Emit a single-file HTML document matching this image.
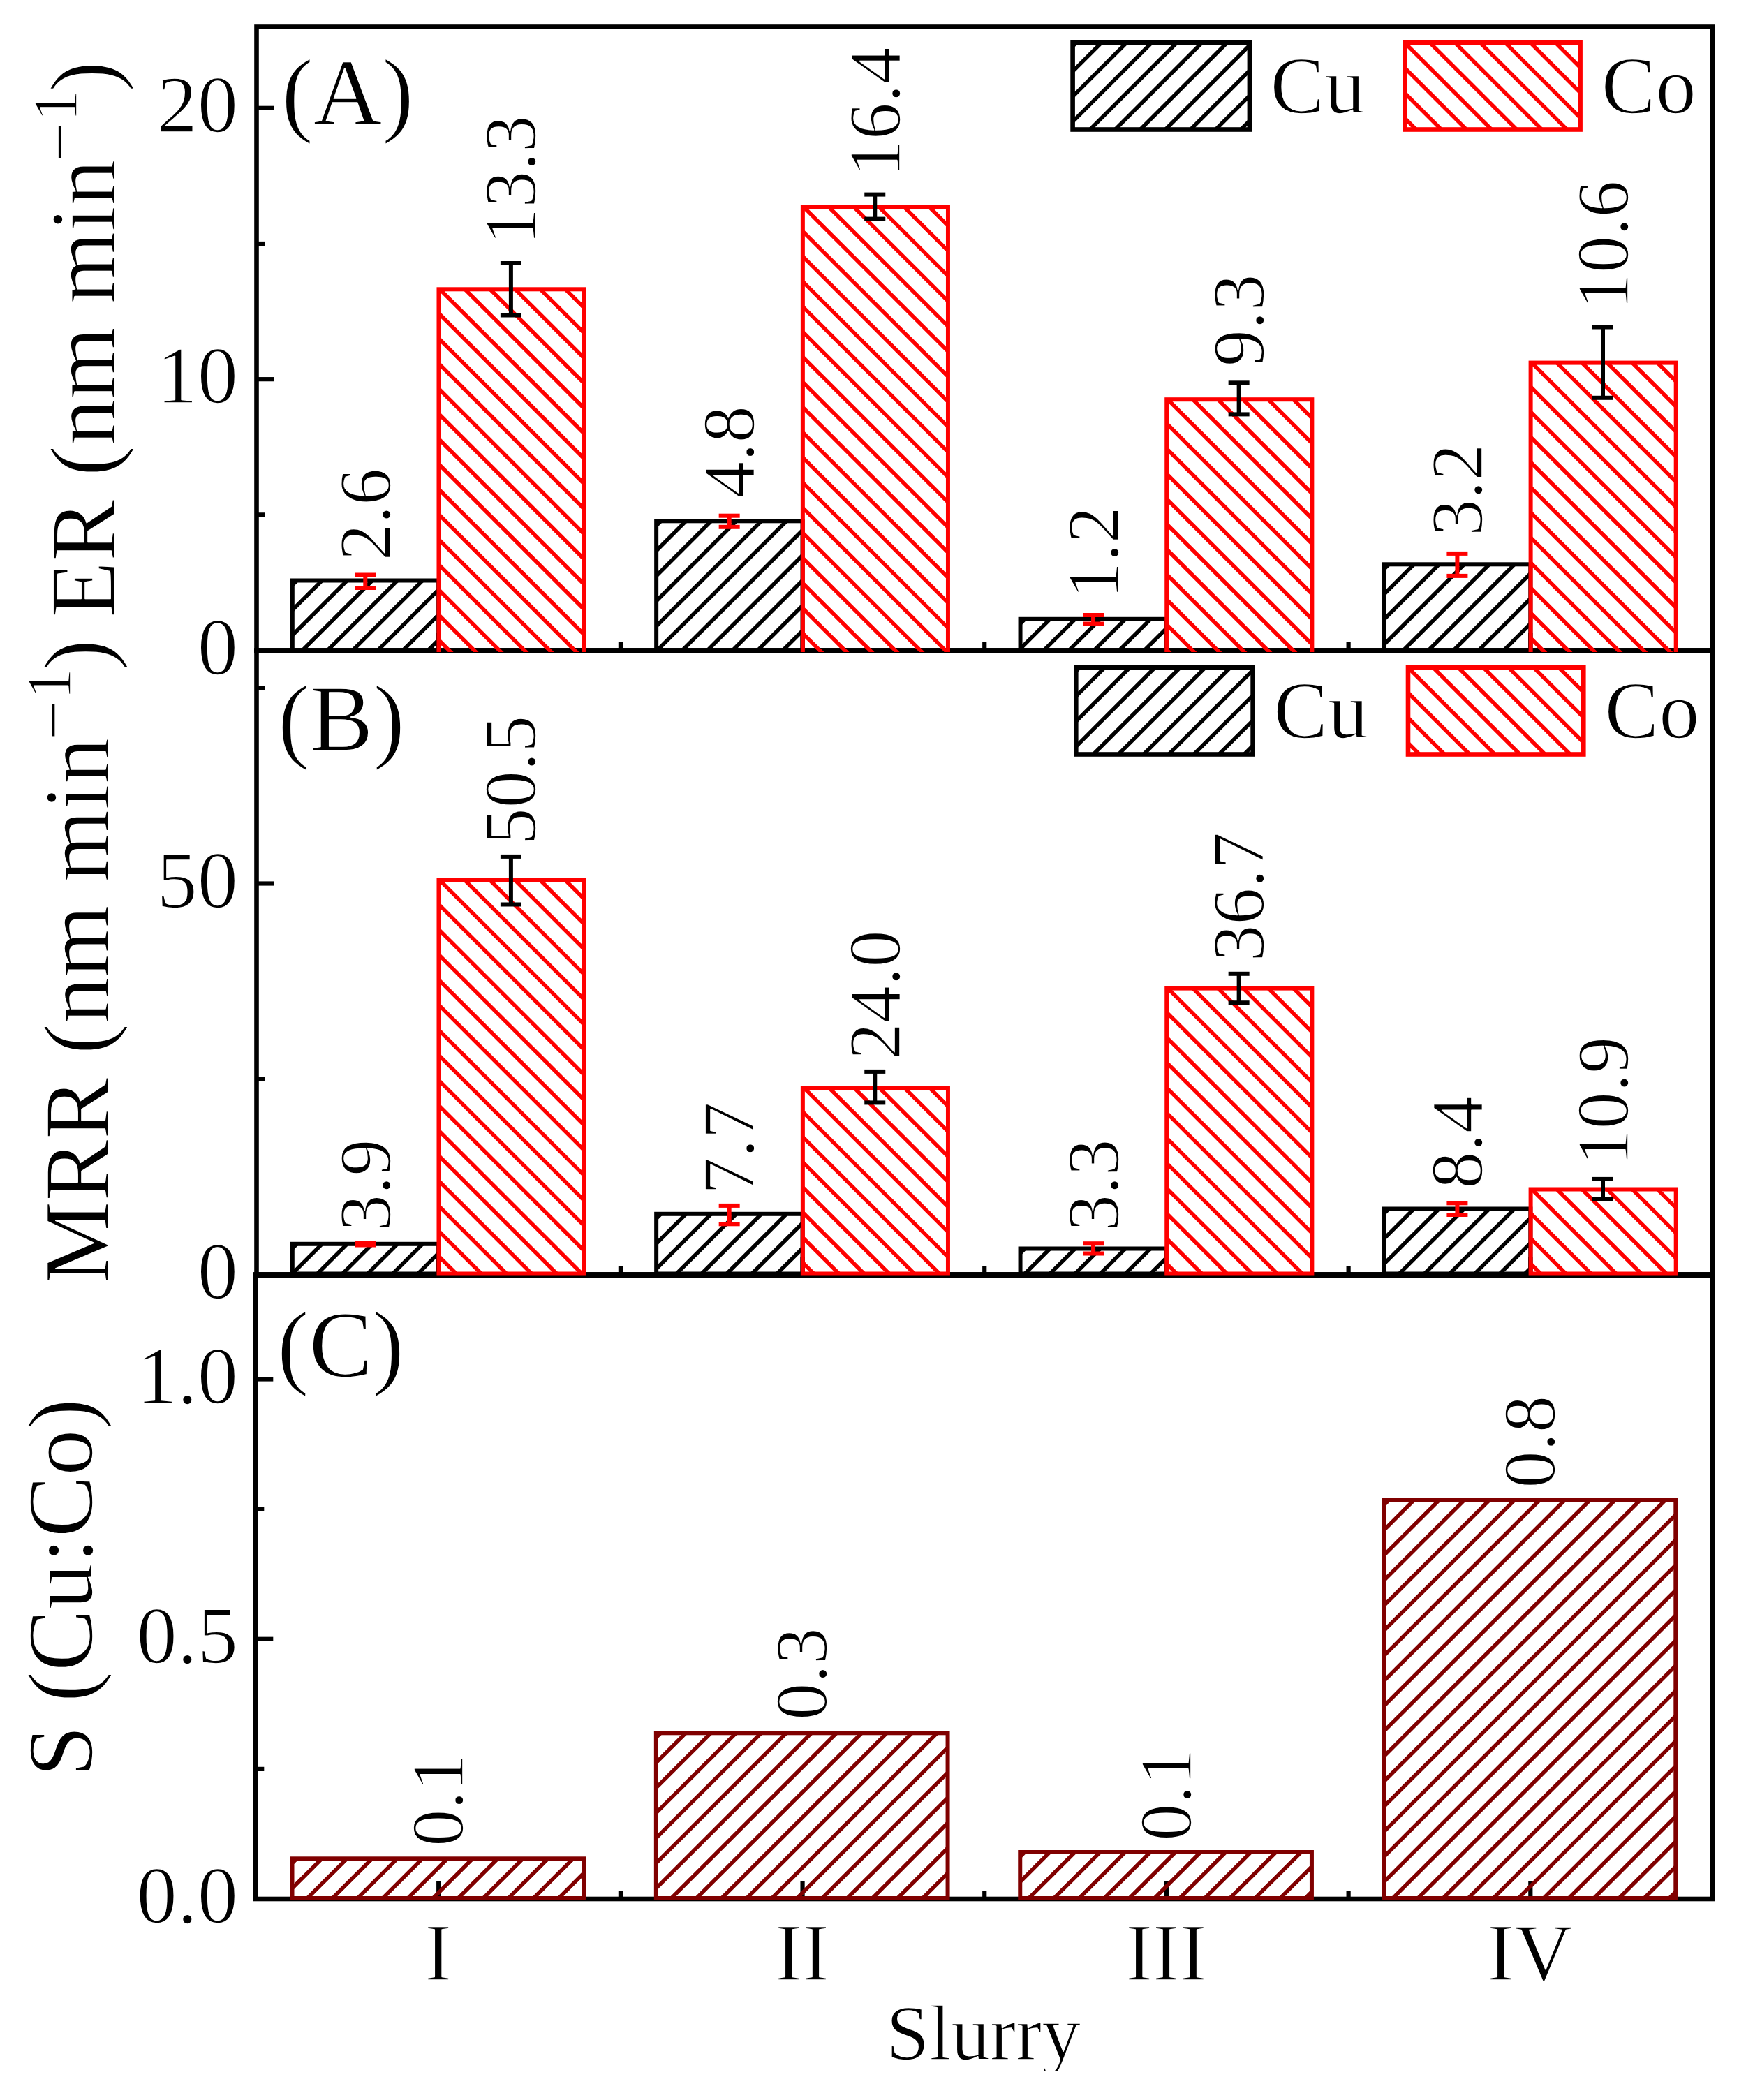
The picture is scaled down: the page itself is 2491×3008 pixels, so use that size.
<!DOCTYPE html>
<html lang="en"><head><meta charset="utf-8"><title>Figure: ER, MRR and selectivity of Cu and Co for slurries I-IV</title>
<style>
html,body{margin:0;padding:0;background:#fff;}
body{width:2491px;height:3008px;overflow:hidden;}
svg{display:block;}
</style></head><body>
<svg width="2491" height="3008" viewBox="0 0 2491 3008" font-family="'Liberation Serif', 'Times New Roman', serif" fill="#000"><style>text{stroke:#fff;stroke-width:1.6px;stroke-linejoin:round}</style>
<rect width="2491" height="3008" fill="#fff"/>
<defs><clipPath id="c1"><rect x="418.79" y="831.5" width="209.4" height="102.5"/></clipPath><clipPath id="c2"><rect x="408.79" y="821.5" width="229.4" height="112.5"/></clipPath><clipPath id="c3"><rect x="940.16" y="746.3" width="209.4" height="187.7"/></clipPath><clipPath id="c4"><rect x="930.16" y="736.3" width="229.4" height="197.7"/></clipPath><clipPath id="c5"><rect x="1461.54" y="886.8" width="209.4" height="47.2"/></clipPath><clipPath id="c6"><rect x="1451.54" y="876.8" width="229.4" height="57.2"/></clipPath><clipPath id="c7"><rect x="1982.91" y="808.3" width="209.4" height="125.7"/></clipPath><clipPath id="c8"><rect x="1972.91" y="798.3" width="229.4" height="135.7"/></clipPath><clipPath id="c9"><rect x="628.49" y="414.3" width="208.1" height="519.7"/></clipPath><clipPath id="c10"><rect x="618.49" y="404.3" width="228.1" height="529.7"/></clipPath><clipPath id="c11"><rect x="1149.86" y="296.7" width="208.1" height="637.3"/></clipPath><clipPath id="c12"><rect x="1139.86" y="286.7" width="228.1" height="647.3"/></clipPath><clipPath id="c13"><rect x="1671.24" y="572.2" width="208.1" height="361.8"/></clipPath><clipPath id="c14"><rect x="1661.24" y="562.2" width="228.1" height="371.8"/></clipPath><clipPath id="c15"><rect x="2192.61" y="519.6" width="208.1" height="414.4"/></clipPath><clipPath id="c16"><rect x="2182.61" y="509.6" width="228.1" height="424.4"/></clipPath><clipPath id="c17"><rect x="1536.6" y="61.3" width="253.3" height="124.2"/></clipPath><clipPath id="c18"><rect x="2012.3" y="61.3" width="251.3" height="124.2"/></clipPath><clipPath id="c19"><rect x="418.79" y="1781.8" width="209.4" height="42.7"/></clipPath><clipPath id="c20"><rect x="940.16" y="1738.8" width="209.4" height="85.7"/></clipPath><clipPath id="c21"><rect x="1461.54" y="1788.5" width="209.4" height="36"/></clipPath><clipPath id="c22"><rect x="1982.91" y="1731.5" width="209.4" height="93"/></clipPath><clipPath id="c23"><rect x="628.49" y="1260.9" width="208.1" height="563.6"/></clipPath><clipPath id="c24"><rect x="1149.86" y="1558" width="208.1" height="266.5"/></clipPath><clipPath id="c25"><rect x="1671.24" y="1415.6" width="208.1" height="408.9"/></clipPath><clipPath id="c26"><rect x="2192.61" y="1703.5" width="208.1" height="121"/></clipPath><clipPath id="c27"><rect x="1541.3" y="956.3" width="253.3" height="124.2"/></clipPath><clipPath id="c28"><rect x="2017" y="956.3" width="251.3" height="124.2"/></clipPath><clipPath id="c29"><rect x="418.49" y="2662.3" width="417.7" height="56.7"/></clipPath><clipPath id="c30"><rect x="939.86" y="2482.3" width="417.7" height="236.7"/></clipPath><clipPath id="c31"><rect x="1461.24" y="2653" width="417.7" height="66"/></clipPath><clipPath id="c32"><rect x="1982.61" y="2149" width="417.7" height="570"/></clipPath><clipPath id="cs"><rect x="1200" y="2840" width="450" height="126.5"/></clipPath></defs>
<rect x="367.5" y="38.5" width="2085.5" height="893" fill="none" stroke="#000" stroke-width="6.6"/>
<line x1="367.5" y1="154.8" x2="392.5" y2="154.8" stroke="#000" stroke-width="6.2"/>
<line x1="367.5" y1="543.15" x2="392.5" y2="543.15" stroke="#000" stroke-width="6.2"/>
<line x1="367.5" y1="348.98" x2="379.5" y2="348.98" stroke="#000" stroke-width="6.2"/>
<line x1="367.5" y1="737.33" x2="379.5" y2="737.33" stroke="#000" stroke-width="6.2"/>
<line x1="628.19" y1="931.5" x2="628.19" y2="906.5" stroke="#000" stroke-width="6.2"/>
<line x1="1149.56" y1="931.5" x2="1149.56" y2="906.5" stroke="#000" stroke-width="6.2"/>
<line x1="1670.94" y1="931.5" x2="1670.94" y2="906.5" stroke="#000" stroke-width="6.2"/>
<line x1="2192.31" y1="931.5" x2="2192.31" y2="906.5" stroke="#000" stroke-width="6.2"/>
<line x1="888.88" y1="931.5" x2="888.88" y2="920" stroke="#000" stroke-width="6.2"/>
<line x1="1410.25" y1="931.5" x2="1410.25" y2="920" stroke="#000" stroke-width="6.2"/>
<line x1="1931.62" y1="931.5" x2="1931.62" y2="920" stroke="#000" stroke-width="6.2"/>
<rect x="367.5" y="931.5" width="2085.5" height="894" fill="none" stroke="#000" stroke-width="6.6"/>
<line x1="367.5" y1="1265.5" x2="392.5" y2="1265.5" stroke="#000" stroke-width="6.2"/>
<line x1="367.5" y1="985.5" x2="379.5" y2="985.5" stroke="#000" stroke-width="6.2"/>
<line x1="367.5" y1="1545.5" x2="379.5" y2="1545.5" stroke="#000" stroke-width="6.2"/>
<line x1="628.19" y1="1825.5" x2="628.19" y2="1800.5" stroke="#000" stroke-width="6.2"/>
<line x1="1149.56" y1="1825.5" x2="1149.56" y2="1800.5" stroke="#000" stroke-width="6.2"/>
<line x1="1670.94" y1="1825.5" x2="1670.94" y2="1800.5" stroke="#000" stroke-width="6.2"/>
<line x1="2192.31" y1="1825.5" x2="2192.31" y2="1800.5" stroke="#000" stroke-width="6.2"/>
<line x1="888.88" y1="1825.5" x2="888.88" y2="1814" stroke="#000" stroke-width="6.2"/>
<line x1="1410.25" y1="1825.5" x2="1410.25" y2="1814" stroke="#000" stroke-width="6.2"/>
<line x1="1931.62" y1="1825.5" x2="1931.62" y2="1814" stroke="#000" stroke-width="6.2"/>
<rect x="366.3" y="1825.5" width="2086.7" height="894.5" fill="none" stroke="#000" stroke-width="6.6"/>
<line x1="366.3" y1="1975.5" x2="391.3" y2="1975.5" stroke="#000" stroke-width="6.2"/>
<line x1="366.3" y1="2347.75" x2="391.3" y2="2347.75" stroke="#000" stroke-width="6.2"/>
<line x1="366.3" y1="2161.62" x2="378.3" y2="2161.62" stroke="#000" stroke-width="6.2"/>
<line x1="366.3" y1="2533.88" x2="378.3" y2="2533.88" stroke="#000" stroke-width="6.2"/>
<line x1="628.19" y1="2720" x2="628.19" y2="2695" stroke="#000" stroke-width="6.2"/>
<line x1="1149.56" y1="2720" x2="1149.56" y2="2695" stroke="#000" stroke-width="6.2"/>
<line x1="1670.94" y1="2720" x2="1670.94" y2="2695" stroke="#000" stroke-width="6.2"/>
<line x1="2192.31" y1="2720" x2="2192.31" y2="2695" stroke="#000" stroke-width="6.2"/>
<line x1="888.88" y1="2720" x2="888.88" y2="2708.5" stroke="#000" stroke-width="6.2"/>
<line x1="1410.25" y1="2720" x2="1410.25" y2="2708.5" stroke="#000" stroke-width="6.2"/>
<line x1="1931.62" y1="2720" x2="1931.62" y2="2708.5" stroke="#000" stroke-width="6.2"/>
<line x1="364.2" y1="932.2" x2="2456.3" y2="932.2" stroke="#000" stroke-width="7.4"/>
<line x1="363" y1="1826.4" x2="2456.3" y2="1826.4" stroke="#000" stroke-width="7.8"/>
<path clip-path="url(#c1)" d="M307.29 949.5L431.29 825.5M343.29 949.5L467.29 825.5M379.29 949.5L503.29 825.5M415.29 949.5L539.29 825.5M451.29 949.5L575.29 825.5M487.29 949.5L611.29 825.5M523.29 949.5L647.29 825.5M559.29 949.5L683.29 825.5M595.29 949.5L719.29 825.5" stroke="#000" stroke-width="5.6" fill="none"/>
<rect x="418.79" y="831.5" width="209.4" height="112" fill="none" stroke="#000" stroke-width="6" clip-path="url(#c2)"/>
<path clip-path="url(#c3)" d="M743.46 949.5L952.66 740.3M779.46 949.5L988.66 740.3M815.46 949.5L1024.66 740.3M851.46 949.5L1060.66 740.3M887.46 949.5L1096.66 740.3M923.46 949.5L1132.66 740.3M959.46 949.5L1168.66 740.3M995.46 949.5L1204.66 740.3M1031.46 949.5L1240.66 740.3M1067.46 949.5L1276.66 740.3M1103.46 949.5L1312.66 740.3M1139.46 949.5L1348.66 740.3" stroke="#000" stroke-width="5.6" fill="none"/>
<rect x="940.16" y="746.3" width="209.4" height="197.2" fill="none" stroke="#000" stroke-width="6" clip-path="url(#c4)"/>
<path clip-path="url(#c5)" d="M1405.34 949.5L1474.04 880.8M1441.34 949.5L1510.04 880.8M1477.34 949.5L1546.04 880.8M1513.34 949.5L1582.04 880.8M1549.34 949.5L1618.04 880.8M1585.34 949.5L1654.04 880.8M1621.34 949.5L1690.04 880.8M1657.34 949.5L1726.04 880.8" stroke="#000" stroke-width="5.6" fill="none"/>
<rect x="1461.54" y="886.8" width="209.4" height="56.7" fill="none" stroke="#000" stroke-width="6" clip-path="url(#c6)"/>
<path clip-path="url(#c7)" d="M1848.21 949.5L1995.41 802.3M1884.21 949.5L2031.41 802.3M1920.21 949.5L2067.41 802.3M1956.21 949.5L2103.41 802.3M1992.21 949.5L2139.41 802.3M2028.21 949.5L2175.41 802.3M2064.21 949.5L2211.41 802.3M2100.21 949.5L2247.41 802.3M2136.21 949.5L2283.41 802.3M2172.21 949.5L2319.41 802.3" stroke="#000" stroke-width="5.6" fill="none"/>
<rect x="1982.91" y="808.3" width="209.4" height="135.2" fill="none" stroke="#000" stroke-width="6" clip-path="url(#c8)"/>
<path clip-path="url(#c9)" d="M83.99 408.3L625.19 949.5M119.99 408.3L661.19 949.5M155.99 408.3L697.19 949.5M191.99 408.3L733.19 949.5M227.99 408.3L769.19 949.5M263.99 408.3L805.19 949.5M299.99 408.3L841.19 949.5M335.99 408.3L877.19 949.5M371.99 408.3L913.19 949.5M407.99 408.3L949.19 949.5M443.99 408.3L985.19 949.5M479.99 408.3L1021.19 949.5M515.99 408.3L1057.19 949.5M551.99 408.3L1093.19 949.5M587.99 408.3L1129.19 949.5M623.99 408.3L1165.19 949.5M659.99 408.3L1201.19 949.5M695.99 408.3L1237.19 949.5M731.99 408.3L1273.19 949.5M767.99 408.3L1309.19 949.5M803.99 408.3L1345.19 949.5" stroke="#f00" stroke-width="5.6" fill="none"/>
<rect x="628.49" y="414.3" width="208.1" height="529.2" fill="none" stroke="#f00" stroke-width="6" clip-path="url(#c10)"/>
<path clip-path="url(#c11)" d="M461.36 290.7L1120.16 949.5M497.36 290.7L1156.16 949.5M533.36 290.7L1192.16 949.5M569.36 290.7L1228.16 949.5M605.36 290.7L1264.16 949.5M641.36 290.7L1300.16 949.5M677.36 290.7L1336.16 949.5M713.36 290.7L1372.16 949.5M749.36 290.7L1408.16 949.5M785.36 290.7L1444.16 949.5M821.36 290.7L1480.16 949.5M857.36 290.7L1516.16 949.5M893.36 290.7L1552.16 949.5M929.36 290.7L1588.16 949.5M965.36 290.7L1624.16 949.5M1001.36 290.7L1660.16 949.5M1037.36 290.7L1696.16 949.5M1073.36 290.7L1732.16 949.5M1109.36 290.7L1768.16 949.5M1145.36 290.7L1804.16 949.5M1181.36 290.7L1840.16 949.5M1217.36 290.7L1876.16 949.5M1253.36 290.7L1912.16 949.5M1289.36 290.7L1948.16 949.5M1325.36 290.7L1984.16 949.5" stroke="#f00" stroke-width="5.6" fill="none"/>
<rect x="1149.86" y="296.7" width="208.1" height="646.8" fill="none" stroke="#f00" stroke-width="6" clip-path="url(#c12)"/>
<path clip-path="url(#c13)" d="M1270.74 566.2L1654.04 949.5M1306.74 566.2L1690.04 949.5M1342.74 566.2L1726.04 949.5M1378.74 566.2L1762.04 949.5M1414.74 566.2L1798.04 949.5M1450.74 566.2L1834.04 949.5M1486.74 566.2L1870.04 949.5M1522.74 566.2L1906.04 949.5M1558.74 566.2L1942.04 949.5M1594.74 566.2L1978.04 949.5M1630.74 566.2L2014.04 949.5M1666.74 566.2L2050.04 949.5M1702.74 566.2L2086.04 949.5M1738.74 566.2L2122.04 949.5M1774.74 566.2L2158.04 949.5M1810.74 566.2L2194.04 949.5M1846.74 566.2L2230.04 949.5" stroke="#f00" stroke-width="5.6" fill="none"/>
<rect x="1671.24" y="572.2" width="208.1" height="371.3" fill="none" stroke="#f00" stroke-width="6" clip-path="url(#c14)"/>
<path clip-path="url(#c15)" d="M1720.11 513.6L2156.01 949.5M1756.11 513.6L2192.01 949.5M1792.11 513.6L2228.01 949.5M1828.11 513.6L2264.01 949.5M1864.11 513.6L2300.01 949.5M1900.11 513.6L2336.01 949.5M1936.11 513.6L2372.01 949.5M1972.11 513.6L2408.01 949.5M2008.11 513.6L2444.01 949.5M2044.11 513.6L2480.01 949.5M2080.11 513.6L2516.01 949.5M2116.11 513.6L2552.01 949.5M2152.11 513.6L2588.01 949.5M2188.11 513.6L2624.01 949.5M2224.11 513.6L2660.01 949.5M2260.11 513.6L2696.01 949.5M2296.11 513.6L2732.01 949.5M2332.11 513.6L2768.01 949.5M2368.11 513.6L2804.01 949.5" stroke="#f00" stroke-width="5.6" fill="none"/>
<rect x="2192.61" y="519.6" width="208.1" height="423.9" fill="none" stroke="#f00" stroke-width="6" clip-path="url(#c16)"/>
<line x1="523.29" y1="823.5" x2="523.29" y2="842" stroke="#f00" stroke-width="6"/>
<line x1="508.29" y1="823.5" x2="538.29" y2="823.5" stroke="#f00" stroke-width="6"/>
<line x1="508.29" y1="842" x2="538.29" y2="842" stroke="#f00" stroke-width="6"/>
<line x1="731.89" y1="377" x2="731.89" y2="451.5" stroke="#000" stroke-width="6"/>
<line x1="716.89" y1="377" x2="746.89" y2="377" stroke="#000" stroke-width="6"/>
<line x1="716.89" y1="451.5" x2="746.89" y2="451.5" stroke="#000" stroke-width="6"/>
<line x1="1044.66" y1="738.7" x2="1044.66" y2="754.8" stroke="#f00" stroke-width="6"/>
<line x1="1029.66" y1="738.7" x2="1059.66" y2="738.7" stroke="#f00" stroke-width="6"/>
<line x1="1029.66" y1="754.8" x2="1059.66" y2="754.8" stroke="#f00" stroke-width="6"/>
<line x1="1253.26" y1="278.6" x2="1253.26" y2="313.6" stroke="#000" stroke-width="6"/>
<line x1="1238.26" y1="278.6" x2="1268.26" y2="278.6" stroke="#000" stroke-width="6"/>
<line x1="1238.26" y1="313.6" x2="1268.26" y2="313.6" stroke="#000" stroke-width="6"/>
<line x1="1566.04" y1="881" x2="1566.04" y2="893.5" stroke="#f00" stroke-width="6"/>
<line x1="1551.04" y1="881" x2="1581.04" y2="881" stroke="#f00" stroke-width="6"/>
<line x1="1551.04" y1="893.5" x2="1581.04" y2="893.5" stroke="#f00" stroke-width="6"/>
<line x1="1774.64" y1="548.3" x2="1774.64" y2="593.4" stroke="#000" stroke-width="6"/>
<line x1="1759.64" y1="548.3" x2="1789.64" y2="548.3" stroke="#000" stroke-width="6"/>
<line x1="1759.64" y1="593.4" x2="1789.64" y2="593.4" stroke="#000" stroke-width="6"/>
<line x1="2087.41" y1="792.9" x2="2087.41" y2="824.9" stroke="#f00" stroke-width="6"/>
<line x1="2072.41" y1="792.9" x2="2102.41" y2="792.9" stroke="#f00" stroke-width="6"/>
<line x1="2072.41" y1="824.9" x2="2102.41" y2="824.9" stroke="#f00" stroke-width="6"/>
<line x1="2296.01" y1="468.5" x2="2296.01" y2="569.8" stroke="#000" stroke-width="6"/>
<line x1="2281.01" y1="468.5" x2="2311.01" y2="468.5" stroke="#000" stroke-width="6"/>
<line x1="2281.01" y1="569.8" x2="2311.01" y2="569.8" stroke="#000" stroke-width="6"/>
<text transform="translate(558.79 803.16) rotate(-90)" font-size="106">2.6</text>
<text transform="translate(767.39 350.77) rotate(-90)" font-size="106">13.3</text>
<text transform="translate(1080.16 713.67) rotate(-90)" font-size="106">4.8</text>
<text transform="translate(1288.76 253.07) rotate(-90)" font-size="106">16.4</text>
<text transform="translate(1601.54 857.77) rotate(-90)" font-size="106">1.2</text>
<text transform="translate(1810.14 525.12) rotate(-90)" font-size="106">9.3</text>
<text transform="translate(2122.91 768.07) rotate(-90)" font-size="106">3.2</text>
<text transform="translate(2331.51 444.07) rotate(-90)" font-size="106">10.6</text>
<path clip-path="url(#c17)" d="M1411.4 191.5L1547.6 55.3M1447.4 191.5L1583.6 55.3M1483.4 191.5L1619.6 55.3M1519.4 191.5L1655.6 55.3M1555.4 191.5L1691.6 55.3M1591.4 191.5L1727.6 55.3M1627.4 191.5L1763.6 55.3M1663.4 191.5L1799.6 55.3M1699.4 191.5L1835.6 55.3M1735.4 191.5L1871.6 55.3M1771.4 191.5L1907.6 55.3" stroke="#000" stroke-width="5.6" fill="none"/>
<rect x="1536.6" y="61.3" width="253.3" height="124.2" fill="none" stroke="#000" stroke-width="6.6"/>
<text x="1819.52" y="161.5" font-size="116.5" text-anchor="start">Cu</text>
<path clip-path="url(#c18)" d="M1862.3 55.3L1998.5 191.5M1898.3 55.3L2034.5 191.5M1934.3 55.3L2070.5 191.5M1970.3 55.3L2106.5 191.5M2006.3 55.3L2142.5 191.5M2042.3 55.3L2178.5 191.5M2078.3 55.3L2214.5 191.5M2114.3 55.3L2250.5 191.5M2150.3 55.3L2286.5 191.5M2186.3 55.3L2322.5 191.5M2222.3 55.3L2358.5 191.5M2258.3 55.3L2394.5 191.5" stroke="#f00" stroke-width="5.6" fill="none"/>
<rect x="2012.3" y="61.3" width="251.3" height="124.2" fill="none" stroke="#f00" stroke-width="6.6"/>
<text x="2293.82" y="161.5" font-size="116.5" text-anchor="start">Co</text>
<text x="403.2" y="178" font-size="136.5" text-anchor="start">(A)</text>
<text x="341" y="188.8" font-size="116.5" text-anchor="end">20</text>
<text x="341" y="577.15" font-size="116.5" text-anchor="end">10</text>
<text x="341" y="965.5" font-size="116.5" text-anchor="end">0</text>
<path clip-path="url(#c19)" d="M376.59 1830.5L431.29 1775.8M412.59 1830.5L467.29 1775.8M448.59 1830.5L503.29 1775.8M484.59 1830.5L539.29 1775.8M520.59 1830.5L575.29 1775.8M556.59 1830.5L611.29 1775.8M592.59 1830.5L647.29 1775.8M628.59 1830.5L683.29 1775.8" stroke="#000" stroke-width="5.6" fill="none"/>
<rect x="418.79" y="1781.8" width="209.4" height="42.7" fill="none" stroke="#000" stroke-width="6"/>
<path clip-path="url(#c20)" d="M854.96 1830.5L952.66 1732.8M890.96 1830.5L988.66 1732.8M926.96 1830.5L1024.66 1732.8M962.96 1830.5L1060.66 1732.8M998.96 1830.5L1096.66 1732.8M1034.96 1830.5L1132.66 1732.8M1070.96 1830.5L1168.66 1732.8M1106.96 1830.5L1204.66 1732.8M1142.96 1830.5L1240.66 1732.8" stroke="#000" stroke-width="5.6" fill="none"/>
<rect x="940.16" y="1738.8" width="209.4" height="85.7" fill="none" stroke="#000" stroke-width="6"/>
<path clip-path="url(#c21)" d="M1426.04 1830.5L1474.04 1782.5M1462.04 1830.5L1510.04 1782.5M1498.04 1830.5L1546.04 1782.5M1534.04 1830.5L1582.04 1782.5M1570.04 1830.5L1618.04 1782.5M1606.04 1830.5L1654.04 1782.5M1642.04 1830.5L1690.04 1782.5" stroke="#000" stroke-width="5.6" fill="none"/>
<rect x="1461.54" y="1788.5" width="209.4" height="36" fill="none" stroke="#000" stroke-width="6"/>
<path clip-path="url(#c22)" d="M1890.41 1830.5L1995.41 1725.5M1926.41 1830.5L2031.41 1725.5M1962.41 1830.5L2067.41 1725.5M1998.41 1830.5L2103.41 1725.5M2034.41 1830.5L2139.41 1725.5M2070.41 1830.5L2175.41 1725.5M2106.41 1830.5L2211.41 1725.5M2142.41 1830.5L2247.41 1725.5M2178.41 1830.5L2283.41 1725.5" stroke="#000" stroke-width="5.6" fill="none"/>
<rect x="1982.91" y="1731.5" width="209.4" height="93" fill="none" stroke="#000" stroke-width="6"/>
<path clip-path="url(#c23)" d="M47.99 1254.9L623.59 1830.5M83.99 1254.9L659.59 1830.5M119.99 1254.9L695.59 1830.5M155.99 1254.9L731.59 1830.5M191.99 1254.9L767.59 1830.5M227.99 1254.9L803.59 1830.5M263.99 1254.9L839.59 1830.5M299.99 1254.9L875.59 1830.5M335.99 1254.9L911.59 1830.5M371.99 1254.9L947.59 1830.5M407.99 1254.9L983.59 1830.5M443.99 1254.9L1019.59 1830.5M479.99 1254.9L1055.59 1830.5M515.99 1254.9L1091.59 1830.5M551.99 1254.9L1127.59 1830.5M587.99 1254.9L1163.59 1830.5M623.99 1254.9L1199.59 1830.5M659.99 1254.9L1235.59 1830.5M695.99 1254.9L1271.59 1830.5M731.99 1254.9L1307.59 1830.5M767.99 1254.9L1343.59 1830.5M803.99 1254.9L1379.59 1830.5" stroke="#f00" stroke-width="5.6" fill="none"/>
<rect x="628.49" y="1260.9" width="208.1" height="563.6" fill="none" stroke="#f00" stroke-width="6"/>
<path clip-path="url(#c24)" d="M857.36 1552L1135.86 1830.5M893.36 1552L1171.86 1830.5M929.36 1552L1207.86 1830.5M965.36 1552L1243.86 1830.5M1001.36 1552L1279.86 1830.5M1037.36 1552L1315.86 1830.5M1073.36 1552L1351.86 1830.5M1109.36 1552L1387.86 1830.5M1145.36 1552L1423.86 1830.5M1181.36 1552L1459.86 1830.5M1217.36 1552L1495.86 1830.5M1253.36 1552L1531.86 1830.5M1289.36 1552L1567.86 1830.5M1325.36 1552L1603.86 1830.5" stroke="#f00" stroke-width="5.6" fill="none"/>
<rect x="1149.86" y="1558" width="208.1" height="266.5" fill="none" stroke="#f00" stroke-width="6"/>
<path clip-path="url(#c25)" d="M1234.74 1409.6L1655.64 1830.5M1270.74 1409.6L1691.64 1830.5M1306.74 1409.6L1727.64 1830.5M1342.74 1409.6L1763.64 1830.5M1378.74 1409.6L1799.64 1830.5M1414.74 1409.6L1835.64 1830.5M1450.74 1409.6L1871.64 1830.5M1486.74 1409.6L1907.64 1830.5M1522.74 1409.6L1943.64 1830.5M1558.74 1409.6L1979.64 1830.5M1594.74 1409.6L2015.64 1830.5M1630.74 1409.6L2051.64 1830.5M1666.74 1409.6L2087.64 1830.5M1702.74 1409.6L2123.64 1830.5M1738.74 1409.6L2159.64 1830.5M1774.74 1409.6L2195.64 1830.5M1810.74 1409.6L2231.64 1830.5M1846.74 1409.6L2267.64 1830.5" stroke="#f00" stroke-width="5.6" fill="none"/>
<rect x="1671.24" y="1415.6" width="208.1" height="408.9" fill="none" stroke="#f00" stroke-width="6"/>
<path clip-path="url(#c26)" d="M2044.11 1697.5L2177.11 1830.5M2080.11 1697.5L2213.11 1830.5M2116.11 1697.5L2249.11 1830.5M2152.11 1697.5L2285.11 1830.5M2188.11 1697.5L2321.11 1830.5M2224.11 1697.5L2357.11 1830.5M2260.11 1697.5L2393.11 1830.5M2296.11 1697.5L2429.11 1830.5M2332.11 1697.5L2465.11 1830.5M2368.11 1697.5L2501.11 1830.5" stroke="#f00" stroke-width="5.6" fill="none"/>
<rect x="2192.61" y="1703.5" width="208.1" height="121" fill="none" stroke="#f00" stroke-width="6"/>
<line x1="523.29" y1="1780.3" x2="523.29" y2="1783.5" stroke="#f00" stroke-width="6"/>
<line x1="508.29" y1="1780.3" x2="538.29" y2="1780.3" stroke="#f00" stroke-width="6"/>
<line x1="508.29" y1="1783.5" x2="538.29" y2="1783.5" stroke="#f00" stroke-width="6"/>
<line x1="731.89" y1="1226.9" x2="731.89" y2="1295.5" stroke="#000" stroke-width="6"/>
<line x1="716.89" y1="1226.9" x2="746.89" y2="1226.9" stroke="#000" stroke-width="6"/>
<line x1="716.89" y1="1295.5" x2="746.89" y2="1295.5" stroke="#000" stroke-width="6"/>
<line x1="1044.66" y1="1726.9" x2="1044.66" y2="1753.3" stroke="#f00" stroke-width="6"/>
<line x1="1029.66" y1="1726.9" x2="1059.66" y2="1726.9" stroke="#f00" stroke-width="6"/>
<line x1="1029.66" y1="1753.3" x2="1059.66" y2="1753.3" stroke="#f00" stroke-width="6"/>
<line x1="1253.26" y1="1534.9" x2="1253.26" y2="1579.4" stroke="#000" stroke-width="6"/>
<line x1="1238.26" y1="1534.9" x2="1268.26" y2="1534.9" stroke="#000" stroke-width="6"/>
<line x1="1238.26" y1="1579.4" x2="1268.26" y2="1579.4" stroke="#000" stroke-width="6"/>
<line x1="1566.04" y1="1781.2" x2="1566.04" y2="1795.5" stroke="#f00" stroke-width="6"/>
<line x1="1551.04" y1="1781.2" x2="1581.04" y2="1781.2" stroke="#f00" stroke-width="6"/>
<line x1="1551.04" y1="1795.5" x2="1581.04" y2="1795.5" stroke="#f00" stroke-width="6"/>
<line x1="1774.64" y1="1394.8" x2="1774.64" y2="1436.2" stroke="#000" stroke-width="6"/>
<line x1="1759.64" y1="1394.8" x2="1789.64" y2="1394.8" stroke="#000" stroke-width="6"/>
<line x1="1759.64" y1="1436.2" x2="1789.64" y2="1436.2" stroke="#000" stroke-width="6"/>
<line x1="2087.41" y1="1723.3" x2="2087.41" y2="1740" stroke="#f00" stroke-width="6"/>
<line x1="2072.41" y1="1723.3" x2="2102.41" y2="1723.3" stroke="#f00" stroke-width="6"/>
<line x1="2072.41" y1="1740" x2="2102.41" y2="1740" stroke="#f00" stroke-width="6"/>
<line x1="2296.01" y1="1688.9" x2="2296.01" y2="1717" stroke="#000" stroke-width="6"/>
<line x1="2281.01" y1="1688.9" x2="2311.01" y2="1688.9" stroke="#000" stroke-width="6"/>
<line x1="2281.01" y1="1717" x2="2311.01" y2="1717" stroke="#000" stroke-width="6"/>
<text transform="translate(558.79 1764.07) rotate(-90)" font-size="106">3.9</text>
<text transform="translate(767.39 1210.16) rotate(-90)" font-size="106">50.5</text>
<text transform="translate(1080.16 1710.99) rotate(-90)" font-size="106">7.7</text>
<text transform="translate(1288.76 1518.06) rotate(-90)" font-size="106">24.0</text>
<text transform="translate(1601.54 1763.97) rotate(-90)" font-size="106">3.3</text>
<text transform="translate(1810.14 1377.57) rotate(-90)" font-size="106">36.7</text>
<text transform="translate(2122.91 1702.64) rotate(-90)" font-size="106">8.4</text>
<text transform="translate(2331.51 1670.17) rotate(-90)" font-size="106">10.9</text>
<path clip-path="url(#c27)" d="M1416.1 1086.5L1552.3 950.3M1452.1 1086.5L1588.3 950.3M1488.1 1086.5L1624.3 950.3M1524.1 1086.5L1660.3 950.3M1560.1 1086.5L1696.3 950.3M1596.1 1086.5L1732.3 950.3M1632.1 1086.5L1768.3 950.3M1668.1 1086.5L1804.3 950.3M1704.1 1086.5L1840.3 950.3M1740.1 1086.5L1876.3 950.3M1776.1 1086.5L1912.3 950.3" stroke="#000" stroke-width="5.6" fill="none"/>
<rect x="1541.3" y="956.3" width="253.3" height="124.2" fill="none" stroke="#000" stroke-width="6.6"/>
<text x="1824.22" y="1056.5" font-size="116.5" text-anchor="start">Cu</text>
<path clip-path="url(#c28)" d="M1867 950.3L2003.2 1086.5M1903 950.3L2039.2 1086.5M1939 950.3L2075.2 1086.5M1975 950.3L2111.2 1086.5M2011 950.3L2147.2 1086.5M2047 950.3L2183.2 1086.5M2083 950.3L2219.2 1086.5M2119 950.3L2255.2 1086.5M2155 950.3L2291.2 1086.5M2191 950.3L2327.2 1086.5M2227 950.3L2363.2 1086.5M2263 950.3L2399.2 1086.5" stroke="#f00" stroke-width="5.6" fill="none"/>
<rect x="2017" y="956.3" width="251.3" height="124.2" fill="none" stroke="#f00" stroke-width="6.6"/>
<text x="2298.52" y="1056.5" font-size="116.5" text-anchor="start">Co</text>
<text x="398" y="1075.3" font-size="136.5" text-anchor="start">(B)</text>
<text x="341" y="1299.5" font-size="116.5" text-anchor="end">50</text>
<text x="341" y="1859.5" font-size="116.5" text-anchor="end">0</text>
<path clip-path="url(#c29)" d="M362.29 2725L430.99 2656.3M398.29 2725L466.99 2656.3M434.29 2725L502.99 2656.3M470.29 2725L538.99 2656.3M506.29 2725L574.99 2656.3M542.29 2725L610.99 2656.3M578.29 2725L646.99 2656.3M614.29 2725L682.99 2656.3M650.29 2725L718.99 2656.3M686.29 2725L754.99 2656.3M722.29 2725L790.99 2656.3M758.29 2725L826.99 2656.3M794.29 2725L862.99 2656.3M830.29 2725L898.99 2656.3" stroke="#800000" stroke-width="5.6" fill="none"/>
<rect x="418.49" y="2662.3" width="417.7" height="56.7" fill="none" stroke="#800000" stroke-width="6"/>
<path clip-path="url(#c30)" d="M703.66 2725L952.36 2476.3M739.66 2725L988.36 2476.3M775.66 2725L1024.36 2476.3M811.66 2725L1060.36 2476.3M847.66 2725L1096.36 2476.3M883.66 2725L1132.36 2476.3M919.66 2725L1168.36 2476.3M955.66 2725L1204.36 2476.3M991.66 2725L1240.36 2476.3M1027.66 2725L1276.36 2476.3M1063.66 2725L1312.36 2476.3M1099.66 2725L1348.36 2476.3M1135.66 2725L1384.36 2476.3M1171.66 2725L1420.36 2476.3M1207.66 2725L1456.36 2476.3M1243.66 2725L1492.36 2476.3M1279.66 2725L1528.36 2476.3M1315.66 2725L1564.36 2476.3M1351.66 2725L1600.36 2476.3" stroke="#800000" stroke-width="5.6" fill="none"/>
<rect x="939.86" y="2482.3" width="417.7" height="236.7" fill="none" stroke="#800000" stroke-width="6"/>
<path clip-path="url(#c31)" d="M1395.74 2725L1473.74 2647M1431.74 2725L1509.74 2647M1467.74 2725L1545.74 2647M1503.74 2725L1581.74 2647M1539.74 2725L1617.74 2647M1575.74 2725L1653.74 2647M1611.74 2725L1689.74 2647M1647.74 2725L1725.74 2647M1683.74 2725L1761.74 2647M1719.74 2725L1797.74 2647M1755.74 2725L1833.74 2647M1791.74 2725L1869.74 2647M1827.74 2725L1905.74 2647M1863.74 2725L1941.74 2647" stroke="#800000" stroke-width="5.6" fill="none"/>
<rect x="1461.24" y="2653" width="417.7" height="66" fill="none" stroke="#800000" stroke-width="6"/>
<path clip-path="url(#c32)" d="M1413.11 2725L1995.11 2143M1449.11 2725L2031.11 2143M1485.11 2725L2067.11 2143M1521.11 2725L2103.11 2143M1557.11 2725L2139.11 2143M1593.11 2725L2175.11 2143M1629.11 2725L2211.11 2143M1665.11 2725L2247.11 2143M1701.11 2725L2283.11 2143M1737.11 2725L2319.11 2143M1773.11 2725L2355.11 2143M1809.11 2725L2391.11 2143M1845.11 2725L2427.11 2143M1881.11 2725L2463.11 2143M1917.11 2725L2499.11 2143M1953.11 2725L2535.11 2143M1989.11 2725L2571.11 2143M2025.11 2725L2607.11 2143M2061.11 2725L2643.11 2143M2097.11 2725L2679.11 2143M2133.11 2725L2715.11 2143M2169.11 2725L2751.11 2143M2205.11 2725L2787.11 2143M2241.11 2725L2823.11 2143M2277.11 2725L2859.11 2143M2313.11 2725L2895.11 2143M2349.11 2725L2931.11 2143M2385.11 2725L2967.11 2143" stroke="#800000" stroke-width="5.6" fill="none"/>
<rect x="1982.61" y="2149" width="417.7" height="570" fill="none" stroke="#800000" stroke-width="6"/>
<text transform="translate(662.79 2644.64) rotate(-90)" font-size="106">0.1</text>
<text transform="translate(1184.16 2463.74) rotate(-90)" font-size="106">0.3</text>
<text transform="translate(1705.54 2636.74) rotate(-90)" font-size="106">0.1</text>
<text transform="translate(2226.91 2131.54) rotate(-90)" font-size="106">0.8</text>
<text x="397" y="1971.5" font-size="136.5" text-anchor="start">(C)</text>
<text x="341" y="2009.5" font-size="116.5" text-anchor="end">1.0</text>
<text x="341" y="2381.75" font-size="116.5" text-anchor="end">0.5</text>
<text x="341" y="2754" font-size="116.5" text-anchor="end">0.0</text>
<text x="627.69" y="2835.8" font-size="116.5" text-anchor="middle">I</text>
<text x="1149.06" y="2835.8" font-size="116.5" text-anchor="middle">II</text>
<text x="1670.44" y="2835.8" font-size="116.5" text-anchor="middle">III</text>
<text x="2191.81" y="2835.8" font-size="116.5" text-anchor="middle">IV</text>
<text x="1408.55" y="2950" font-size="111.5" text-anchor="middle" clip-path="url(#cs)">Slurry</text>
<text transform="translate(163.6 486.3) rotate(-90)" font-size="132.8" text-anchor="middle">ER (nm min<tspan font-size="103" dx="-3.9" dy="-43.6">−</tspan><tspan font-size="91" dy="-9.9">1</tspan><tspan dx="-3" dy="53.5">)</tspan></text>
<text transform="translate(154.6 1377.2) rotate(-90)" font-size="132.8" text-anchor="middle">MRR (nm min<tspan font-size="103" dx="-3.9" dy="-43.6">−</tspan><tspan font-size="91" dy="-9.9">1</tspan><tspan dx="-3" dy="53.5">)</tspan></text>
<text transform="translate(131.5 2274.2) rotate(-90)" font-size="132.8" text-anchor="middle">S (Cu:Co)</text>
</svg>
</body></html>
